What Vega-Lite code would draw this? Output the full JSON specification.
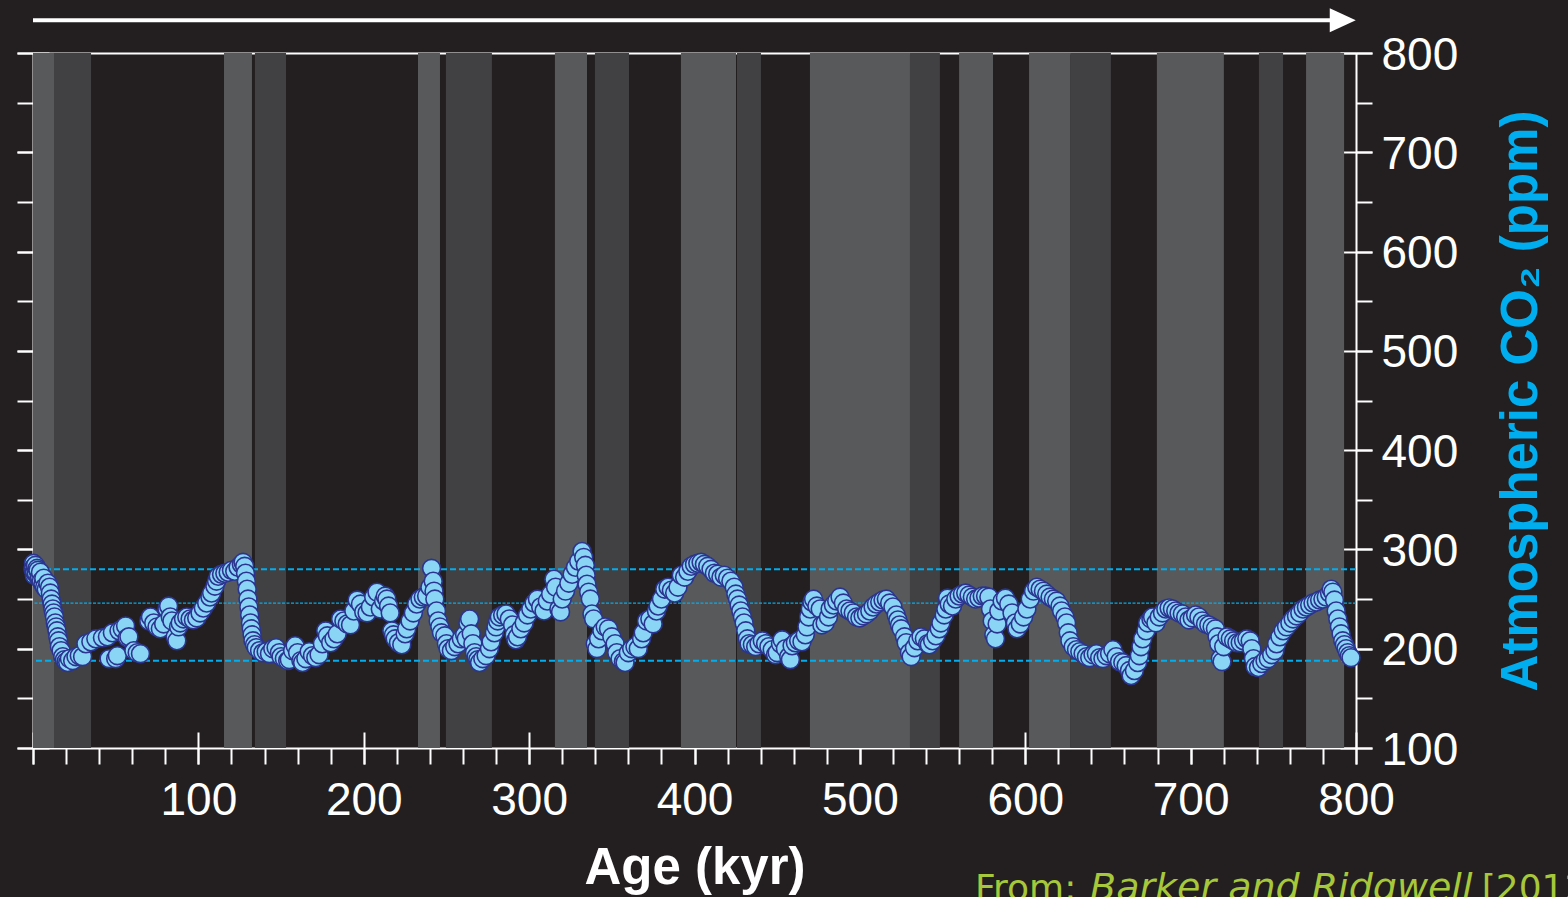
{
  "$schema": "https://vega.github.io/schema/vega-lite/v6.json",
  "width": 1323,
  "height": 695,
  "autosize": "none",
  "padding": {"left": 33, "top": 53, "right": 212, "bottom": 149},
  "background": "#231f20",
  "config": {
    "view": {"stroke": null},
    "axis": {
      "grid": false,
      "zindex": 1,
      "domainColor": "#ffffff",
      "tickColor": "#ffffff",
      "domainWidth": 2,
      "tickWidth": 2,
      "labelFont": "Liberation Sans",
      "titleFont": "Liberation Sans",
      "labelColor": "#ffffff",
      "titleColor": "#ffffff"
    }
  },
  "resolve": {"axis": {"x": "independent", "y": "independent"}},
  "layer": [
    {
      "data": {"values": [
        {"start": 0, "end": 12.7, "band": "major"},
        {"start": 12.7, "end": 35.1, "band": "minor"},
        {"start": 115.5, "end": 132.4, "band": "major"},
        {"start": 134.2, "end": 153, "band": "minor"},
        {"start": 232.8, "end": 246.1, "band": "major"},
        {"start": 249.7, "end": 277.5, "band": "minor"},
        {"start": 315.6, "end": 335, "band": "major"},
        {"start": 339.8, "end": 360.4, "band": "minor"},
        {"start": 391.8, "end": 425.1, "band": "major"},
        {"start": 425.7, "end": 440.2, "band": "minor"},
        {"start": 469.8, "end": 530.3, "band": "major"},
        {"start": 530.3, "end": 548.4, "band": "minor"},
        {"start": 560, "end": 580.5, "band": "major"},
        {"start": 602.3, "end": 627.1, "band": "major"},
        {"start": 627.1, "end": 651.8, "band": "minor"},
        {"start": 679.6, "end": 720.1, "band": "major"},
        {"start": 741.3, "end": 755.9, "band": "minor"},
        {"start": 769.8, "end": 792.8, "band": "major"}
      ]},
      "mark": {"type": "rect"},
      "encoding": {
        "x": {
          "field": "start", "type": "quantitative",
          "scale": {"domain": [0, 800], "nice": false, "zero": false},
          "axis": {"orient": "bottom", "offset": -16, "tickSize": 32, "values": [0, 100, 200, 300, 400, 500, 600, 700, 800], "labels": false, "domain": false, "title": null}
        },
        "x2": {"field": "end"},
        "y": {
          "datum": 800, "type": "quantitative",
          "scale": {"domain": [100, 800], "nice": false, "zero": false},
          "axis": {"orient": "left", "offset": -16, "tickSize": 32, "values": [100, 200, 300, 400, 500, 600, 700, 800], "labels": false, "domain": false, "title": null}
        },
        "y2": {"datum": 100},
        "color": {"field": "band", "type": "nominal", "scale": {"domain": ["major", "minor"], "range": ["#58595b", "#414042"]}, "legend": null}
      }
    },
    {
      "data": {"values": [{"co2": 280}, {"co2": 188}]},
      "mark": {"type": "rule", "color": "#00aeef", "strokeWidth": 2, "strokeDash": [6, 3]},
      "encoding": {
        "y": {
          "field": "co2", "type": "quantitative",
          "scale": {"domain": [100, 800], "nice": false, "zero": false},
          "axis": {"orient": "left", "tickSize": 16, "values": [100, 150, 200, 250, 300, 350, 400, 450, 500, 550, 600, 650, 700, 750, 800], "labels": false, "title": null}
        }
      }
    },
    {
      "data": {"values": [{"co2": 246}]},
      "mark": {"type": "rule", "color": "#00aeef", "strokeWidth": 1.2, "strokeDash": [3, 1.5]},
      "encoding": {
        "y": {"field": "co2", "type": "quantitative", "axis": null}
      }
    },
    {
      "data": {"values": [
        {"age":0,"co2":280},{"age":0.3,"co2":286},{"age":0.5,"co2":282},{"age":0.8,"co2":274},{"age":1,"co2":277},{"age":1.5,"co2":284},{"age":2,"co2":276},{"age":2.5,"co2":281},{"age":3,"co2":279},{"age":3.5,"co2":271},{"age":4,"co2":272},{"age":4.5,"co2":277},{"age":5,"co2":268},{"age":6,"co2":265},{"age":6.5,"co2":271},{"age":7,"co2":262},{"age":8,"co2":260},{"age":9,"co2":266},{"age":10,"co2":262},{"age":10.5,"co2":256},{"age":11,"co2":250},{"age":11.5,"co2":245},{"age":12,"co2":240},{"age":12.5,"co2":236},{"age":13,"co2":232},{"age":13.5,"co2":226},{"age":14,"co2":222},{"age":14.5,"co2":218},{"age":15,"co2":212},{"age":15.5,"co2":208},{"age":16,"co2":202},{"age":17,"co2":198},{"age":18,"co2":192},{"age":19,"co2":189},{"age":20,"co2":187},{"age":21,"co2":186},{"age":22,"co2":190},{"age":24,"co2":188},{"age":26,"co2":192},{"age":28,"co2":193},{"age":30,"co2":192},
        {"age":32,"co2":205},{"age":35,"co2":207},{"age":38,"co2":210},{"age":42,"co2":211},{"age":45,"co2":212},{"age":46,"co2":190},{"age":48,"co2":216},{"age":50,"co2":190},{"age":51,"co2":193},{"age":52,"co2":218},{"age":54,"co2":220},{"age":56,"co2":223},{"age":57,"co2":211},{"age":58,"co2":212},{"age":61,"co2":198},{"age":63,"co2":196},{"age":65,"co2":195},
        {"age":70,"co2":228},{"age":71,"co2":232},{"age":73,"co2":226},{"age":75,"co2":222},{"age":77,"co2":220},{"age":79,"co2":225},{"age":81,"co2":240},{"age":82,"co2":243},{"age":83,"co2":232},{"age":84,"co2":228},{"age":86,"co2":212},{"age":87,"co2":208},{"age":88,"co2":222},{"age":89,"co2":226},{"age":91,"co2":230},{"age":93,"co2":232},{"age":95,"co2":230},{"age":97,"co2":229},{"age":99,"co2":231},{"age":101,"co2":236},{"age":103,"co2":241},{"age":105,"co2":246},{"age":107,"co2":252},{"age":108,"co2":256},{"age":110,"co2":263},{"age":111,"co2":268},{"age":112,"co2":273},{"age":114,"co2":275},{"age":116,"co2":276},{"age":118,"co2":277},{"age":120,"co2":279},{"age":122,"co2":278},{"age":124,"co2":282},{"age":126,"co2":285},{"age":127,"co2":287},{"age":128,"co2":283},{"age":128.5,"co2":276},{"age":129,"co2":268},{"age":129.5,"co2":260},{"age":130,"co2":250},{"age":130.5,"co2":242},{"age":131,"co2":234},{"age":131.5,"co2":226},{"age":132,"co2":220},{"age":132.5,"co2":214},{"age":133,"co2":208},{"age":134,"co2":204},{"age":135,"co2":201},{"age":137,"co2":198},{"age":139,"co2":196},{"age":141,"co2":197},{"age":143,"co2":195},{"age":145,"co2":200},{"age":147,"co2":201},{"age":149,"co2":196},{"age":150,"co2":192},{"age":152,"co2":190},{"age":154,"co2":188},{"age":155,"co2":189},{"age":157,"co2":198},{"age":158.5,"co2":203},{"age":160,"co2":196},{"age":162,"co2":188},{"age":163,"co2":186},{"age":165,"co2":190},{"age":167,"co2":197},{"age":169,"co2":193},{"age":171,"co2":191},{"age":173,"co2":194},{"age":175,"co2":205},{"age":177,"co2":218},{"age":178,"co2":213},{"age":180,"co2":206},{"age":182,"co2":210},{"age":184,"co2":215},{"age":186,"co2":230},{"age":188,"co2":228},{"age":190,"co2":225},{"age":192,"co2":224},{"age":194,"co2":238},{"age":196,"co2":249},{"age":198,"co2":245},{"age":200,"co2":237},
        {"age":202,"co2":236},{"age":204,"co2":242},{"age":206,"co2":252},{"age":208,"co2":257},{"age":210,"co2":240},{"age":212,"co2":248},{"age":213,"co2":253},{"age":214,"co2":250},{"age":215,"co2":243},{"age":216,"co2":236},{"age":217,"co2":218},{"age":218,"co2":214},{"age":219,"co2":210},{"age":221,"co2":206},{"age":223,"co2":204},{"age":225,"co2":215},{"age":226,"co2":220},{"age":228,"co2":228},{"age":230,"co2":236},{"age":232,"co2":245},{"age":234,"co2":250},{"age":236,"co2":252},{"age":238,"co2":253},{"age":240,"co2":262},{"age":241,"co2":281},{"age":242,"co2":268},{"age":242.5,"co2":258},{"age":243,"co2":250},{"age":244,"co2":238},{"age":245,"co2":228},{"age":246,"co2":222},{"age":247,"co2":216},{"age":249,"co2":213},{"age":250,"co2":205},{"age":251,"co2":200},{"age":253,"co2":198},{"age":255,"co2":202},{"age":257,"co2":205},{"age":259,"co2":210},{"age":261,"co2":214},{"age":262,"co2":210},{"age":263,"co2":226},{"age":264,"co2":230},{"age":265,"co2":215},{"age":266,"co2":205},{"age":267,"co2":196},{"age":268,"co2":192},{"age":269,"co2":189},{"age":270,"co2":186},{"age":272,"co2":190},{"age":274,"co2":193},{"age":276,"co2":200},{"age":277,"co2":207},{"age":279,"co2":216},{"age":280,"co2":222},{"age":281,"co2":228},{"age":282,"co2":232},{"age":284,"co2":234},{"age":286,"co2":235},{"age":288,"co2":230},{"age":290,"co2":224},{"age":291,"co2":214},{"age":292,"co2":209},{"age":293,"co2":212},{"age":295,"co2":220},{"age":297,"co2":226},{"age":299,"co2":234},
        {"age":301,"co2":240},{"age":303,"co2":246},{"age":305,"co2":250},{"age":307,"co2":242},{"age":309,"co2":238},{"age":311,"co2":248},{"age":313,"co2":255},{"age":315,"co2":270},{"age":316,"co2":262},{"age":318,"co2":240},{"age":319,"co2":237},{"age":320,"co2":250},{"age":322,"co2":258},{"age":324,"co2":266},{"age":326,"co2":275},{"age":328,"co2":282},{"age":330,"co2":288},{"age":332,"co2":298},{"age":333,"co2":292},{"age":334,"co2":284},{"age":334.5,"co2":274},{"age":335,"co2":265},{"age":336,"co2":257},{"age":337,"co2":250},{"age":338,"co2":235},{"age":339,"co2":230},{"age":340,"co2":205},{"age":341,"co2":200},{"age":342,"co2":210},{"age":344,"co2":218},{"age":346,"co2":222},{"age":348,"co2":220},{"age":350,"co2":212},{"age":352,"co2":205},{"age":353,"co2":196},{"age":355,"co2":190},{"age":357,"co2":187},{"age":358,"co2":186},{"age":360,"co2":196},{"age":362,"co2":200},{"age":364,"co2":202},{"age":366,"co2":200},{"age":368,"co2":210},{"age":369,"co2":216},{"age":371,"co2":228},{"age":373,"co2":230},{"age":375,"co2":225},{"age":377,"co2":238},{"age":378,"co2":243},{"age":380,"co2":250},{"age":382,"co2":260},{"age":384,"co2":262},{"age":386,"co2":259},{"age":388,"co2":256},{"age":390,"co2":262},{"age":392,"co2":274},{"age":394,"co2":272},{"age":396,"co2":278},{"age":398,"co2":283},{"age":400,"co2":285},
        {"age":402,"co2":286},{"age":404,"co2":287},{"age":406,"co2":285},{"age":408,"co2":283},{"age":410,"co2":280},{"age":412,"co2":276},{"age":414,"co2":275},{"age":416,"co2":272},{"age":418,"co2":274},{"age":420,"co2":271},{"age":422,"co2":268},{"age":424,"co2":262},{"age":425,"co2":255},{"age":426,"co2":250},{"age":427,"co2":244},{"age":428,"co2":238},{"age":429,"co2":232},{"age":430,"co2":226},{"age":431,"co2":218},{"age":432,"co2":210},{"age":433,"co2":205},{"age":435,"co2":204},{"age":437,"co2":202},{"age":439,"co2":205},{"age":441,"co2":208},{"age":443,"co2":205},{"age":445,"co2":202},{"age":447,"co2":199},{"age":449,"co2":194},{"age":450,"co2":196},{"age":452,"co2":205},{"age":453,"co2":209},{"age":455,"co2":200},{"age":457,"co2":192},{"age":458,"co2":189},{"age":459,"co2":203},{"age":461,"co2":206},{"age":463,"co2":208},{"age":465,"co2":207},{"age":467,"co2":214},{"age":468,"co2":222},{"age":469,"co2":232},{"age":470,"co2":240},{"age":471,"co2":247},{"age":472,"co2":250},{"age":474,"co2":243},{"age":476,"co2":240},{"age":477,"co2":224},{"age":479,"co2":226},{"age":481,"co2":232},{"age":482,"co2":240},{"age":484,"co2":244},{"age":486,"co2":248},{"age":488,"co2":252},{"age":490,"co2":246},{"age":492,"co2":240},{"age":494,"co2":238},{"age":496,"co2":236},{"age":498,"co2":232},{"age":500,"co2":231},
        {"age":502,"co2":233},{"age":504,"co2":235},{"age":506,"co2":238},{"age":508,"co2":242},{"age":510,"co2":245},{"age":512,"co2":247},{"age":514,"co2":249},{"age":516,"co2":250},{"age":518,"co2":246},{"age":520,"co2":242},{"age":522,"co2":234},{"age":523,"co2":229},{"age":524,"co2":224},{"age":525,"co2":220},{"age":527,"co2":212},{"age":528,"co2":206},{"age":530,"co2":196},{"age":531,"co2":192},{"age":533,"co2":201},{"age":535,"co2":208},{"age":537,"co2":212},{"age":539,"co2":210},{"age":541,"co2":205},{"age":542,"co2":204},{"age":544,"co2":208},{"age":546,"co2":213},{"age":548,"co2":220},{"age":549,"co2":226},{"age":551,"co2":234},{"age":552,"co2":240},{"age":553,"co2":251},{"age":554,"co2":245},{"age":556,"co2":243},{"age":558,"co2":250},{"age":560,"co2":253},{"age":562,"co2":255},{"age":564,"co2":256},{"age":566,"co2":254},{"age":568,"co2":252},{"age":570,"co2":250},{"age":572,"co2":251},{"age":574,"co2":253},{"age":576,"co2":253},{"age":578,"co2":252},{"age":579,"co2":240},{"age":580,"co2":228},{"age":581,"co2":214},{"age":582,"co2":210},{"age":583,"co2":225},{"age":584,"co2":238},{"age":586,"co2":248},{"age":588,"co2":251},{"age":590,"co2":245},{"age":592,"co2":236},{"age":594,"co2":226},{"age":595,"co2":220},{"age":597,"co2":225},{"age":599,"co2":232},
        {"age":601,"co2":240},{"age":603,"co2":250},{"age":605,"co2":258},{"age":607,"co2":262},{"age":609,"co2":260},{"age":611,"co2":258},{"age":613,"co2":255},{"age":615,"co2":252},{"age":617,"co2":250},{"age":619,"co2":248},{"age":621,"co2":243},{"age":622,"co2":238},{"age":624,"co2":232},{"age":625,"co2":226},{"age":626,"co2":216},{"age":627,"co2":208},{"age":629,"co2":202},{"age":631,"co2":199},{"age":633,"co2":197},{"age":635,"co2":195},{"age":637,"co2":192},{"age":639,"co2":191},{"age":641,"co2":194},{"age":643,"co2":195},{"age":645,"co2":191},{"age":647,"co2":190},{"age":649,"co2":193},{"age":651,"co2":195},{"age":653,"co2":199},{"age":655,"co2":192},{"age":657,"co2":187},{"age":659,"co2":186},{"age":661,"co2":183},{"age":663,"co2":178},{"age":664,"co2":173},{"age":666,"co2":178},{"age":668,"co2":186},{"age":669,"co2":193},{"age":670,"co2":202},{"age":671,"co2":210},{"age":673,"co2":218},{"age":674,"co2":226},{"age":676,"co2":230},{"age":677,"co2":232},{"age":679,"co2":226},{"age":681,"co2":232},{"age":683,"co2":236},{"age":685,"co2":240},{"age":687,"co2":241},{"age":689,"co2":240},{"age":691,"co2":238},{"age":693,"co2":236},{"age":695,"co2":235},{"age":697,"co2":232},{"age":699,"co2":229},
        {"age":701,"co2":231},{"age":703,"co2":234},{"age":705,"co2":232},{"age":707,"co2":228},{"age":709,"co2":225},{"age":711,"co2":224},{"age":713,"co2":222},{"age":715,"co2":220},{"age":716,"co2":212},{"age":717,"co2":205},{"age":718,"co2":190},{"age":719,"co2":187},{"age":720,"co2":202},{"age":722,"co2":212},{"age":724,"co2":210},{"age":726,"co2":208},{"age":728,"co2":206},{"age":730,"co2":206},{"age":732,"co2":208},{"age":734,"co2":210},{"age":736,"co2":208},{"age":737,"co2":200},{"age":738,"co2":190},{"age":739,"co2":182},{"age":741,"co2":181},{"age":743,"co2":185},{"age":745,"co2":188},{"age":747,"co2":190},{"age":749,"co2":194},{"age":751,"co2":198},{"age":752,"co2":205},{"age":754,"co2":212},{"age":756,"co2":218},{"age":758,"co2":222},{"age":760,"co2":226},{"age":762,"co2":230},{"age":764,"co2":233},{"age":766,"co2":236},{"age":768,"co2":240},{"age":770,"co2":242},{"age":772,"co2":244},{"age":774,"co2":246},{"age":776,"co2":247},{"age":778,"co2":249},{"age":780,"co2":250},{"age":782,"co2":252},{"age":784,"co2":256},{"age":785,"co2":260},{"age":786,"co2":257},{"age":787,"co2":249},{"age":788,"co2":238},{"age":789,"co2":230},{"age":790,"co2":222},{"age":791,"co2":215},{"age":792,"co2":208},{"age":793,"co2":204},{"age":794,"co2":200},{"age":795,"co2":196},{"age":796,"co2":193},{"age":797,"co2":191}
      ]},
      "mark": {"type": "circle", "fill": "#8ad4f6", "stroke": "#2b3590", "strokeWidth": 1.6, "size": 320, "opacity": 1, "fillOpacity": 1},
      "encoding": {
        "x": {
          "field": "age", "type": "quantitative",
          "scale": {"domain": [0, 800], "nice": false, "zero": false},
          "axis": {
            "orient": "bottom",
            "values": [0, 20, 40, 60, 80, 100, 120, 140, 160, 180, 200, 220, 240, 260, 280, 300, 320, 340, 360, 380, 400, 420, 440, 460, 480, 500, 520, 540, 560, 580, 600, 620, 640, 660, 680, 700, 720, 740, 760, 780, 800],
            "tickSize": 16,
            "labelExpr": "datum.value % 100 === 0 && datum.value > 0 ? datum.label : ''",
            "labelFontSize": 46,
            "labelPadding": 14,
            "labelFlush": false,
            "labelOverlap": false,
            "title": "Age (kyr)",
            "titleFontSize": 51,
            "titleFontWeight": "bold",
            "titlePadding": 20
          }
        },
        "y": {
          "field": "co2", "type": "quantitative",
          "scale": {"domain": [100, 800], "nice": false, "zero": false},
          "axis": {
            "orient": "right",
            "values": [100, 150, 200, 250, 300, 350, 400, 450, 500, 550, 600, 650, 700, 750, 800],
            "tickSize": 16,
            "labelExpr": "datum.value % 100 === 0 ? datum.label : ''",
            "labelFontSize": 46,
            "labelPadding": 9,
            "labelOffset": 2,
            "labelFlush": false,
            "labelOverlap": false,
            "title": "Atmospheric CO₂ (ppm)",
            "titleColor": "#00aeef",
            "titleFontSize": 51,
            "titleFontWeight": "bold",
            "titleAngle": 270,
            "titlePadding": 90
          }
        }
      }
    },
    {
      "data": {"values": [{}]},
      "mark": {"type": "rule", "color": "#ffffff", "strokeWidth": 4},
      "encoding": {
        "x": {
          "datum": 0, "type": "quantitative",
          "axis": {"orient": "top", "ticks": false, "labels": false, "domain": true, "title": null}
        },
        "x2": {"datum": 785},
        "y": {
          "datum": 833, "type": "quantitative",
          "axis": {"orient": "right", "offset": -16, "tickSize": 32, "values": [100, 200, 300, 400, 500, 600, 700, 800], "labels": false, "domain": false, "title": null}
        }
      }
    },
    {
      "data": {"values": [{}]},
      "mark": {"type": "point", "shape": "M-1,-0.92L1,0L-1,0.92Z", "filled": true, "color": "#ffffff", "size": 676, "opacity": 1},
      "encoding": {
        "x": {"datum": 792, "type": "quantitative", "axis": null},
        "y": {"datum": 833, "type": "quantitative", "axis": null}
      }
    },
    {
      "data": {"values": [{}]},
      "mark": {"type": "text", "text": "From:", "font": "DejaVu Sans", "fontSize": 36, "color": "#a6c83a", "align": "left", "baseline": "alphabetic"},
      "encoding": {
        "x": {"datum": 569.6, "type": "quantitative", "axis": null},
        "y": {"datum": -53, "type": "quantitative", "axis": null}
      }
    },
    {
      "data": {"values": [{}]},
      "mark": {"type": "text", "text": "Barker and Ridgwell", "font": "DejaVu Sans", "fontStyle": "italic", "fontSize": 38, "color": "#a6c83a", "align": "left", "baseline": "alphabetic"},
      "encoding": {
        "x": {"datum": 639.2, "type": "quantitative", "axis": null},
        "y": {"datum": -53, "type": "quantitative", "axis": null}
      }
    },
    {
      "data": {"values": [{}]},
      "mark": {"type": "text", "text": "[2012]", "font": "DejaVu Sans", "fontSize": 36, "color": "#a6c83a", "align": "left", "baseline": "alphabetic"},
      "encoding": {
        "x": {"datum": 876, "type": "quantitative", "axis": null},
        "y": {"datum": -53, "type": "quantitative", "axis": null}
      }
    }
  ]
}
